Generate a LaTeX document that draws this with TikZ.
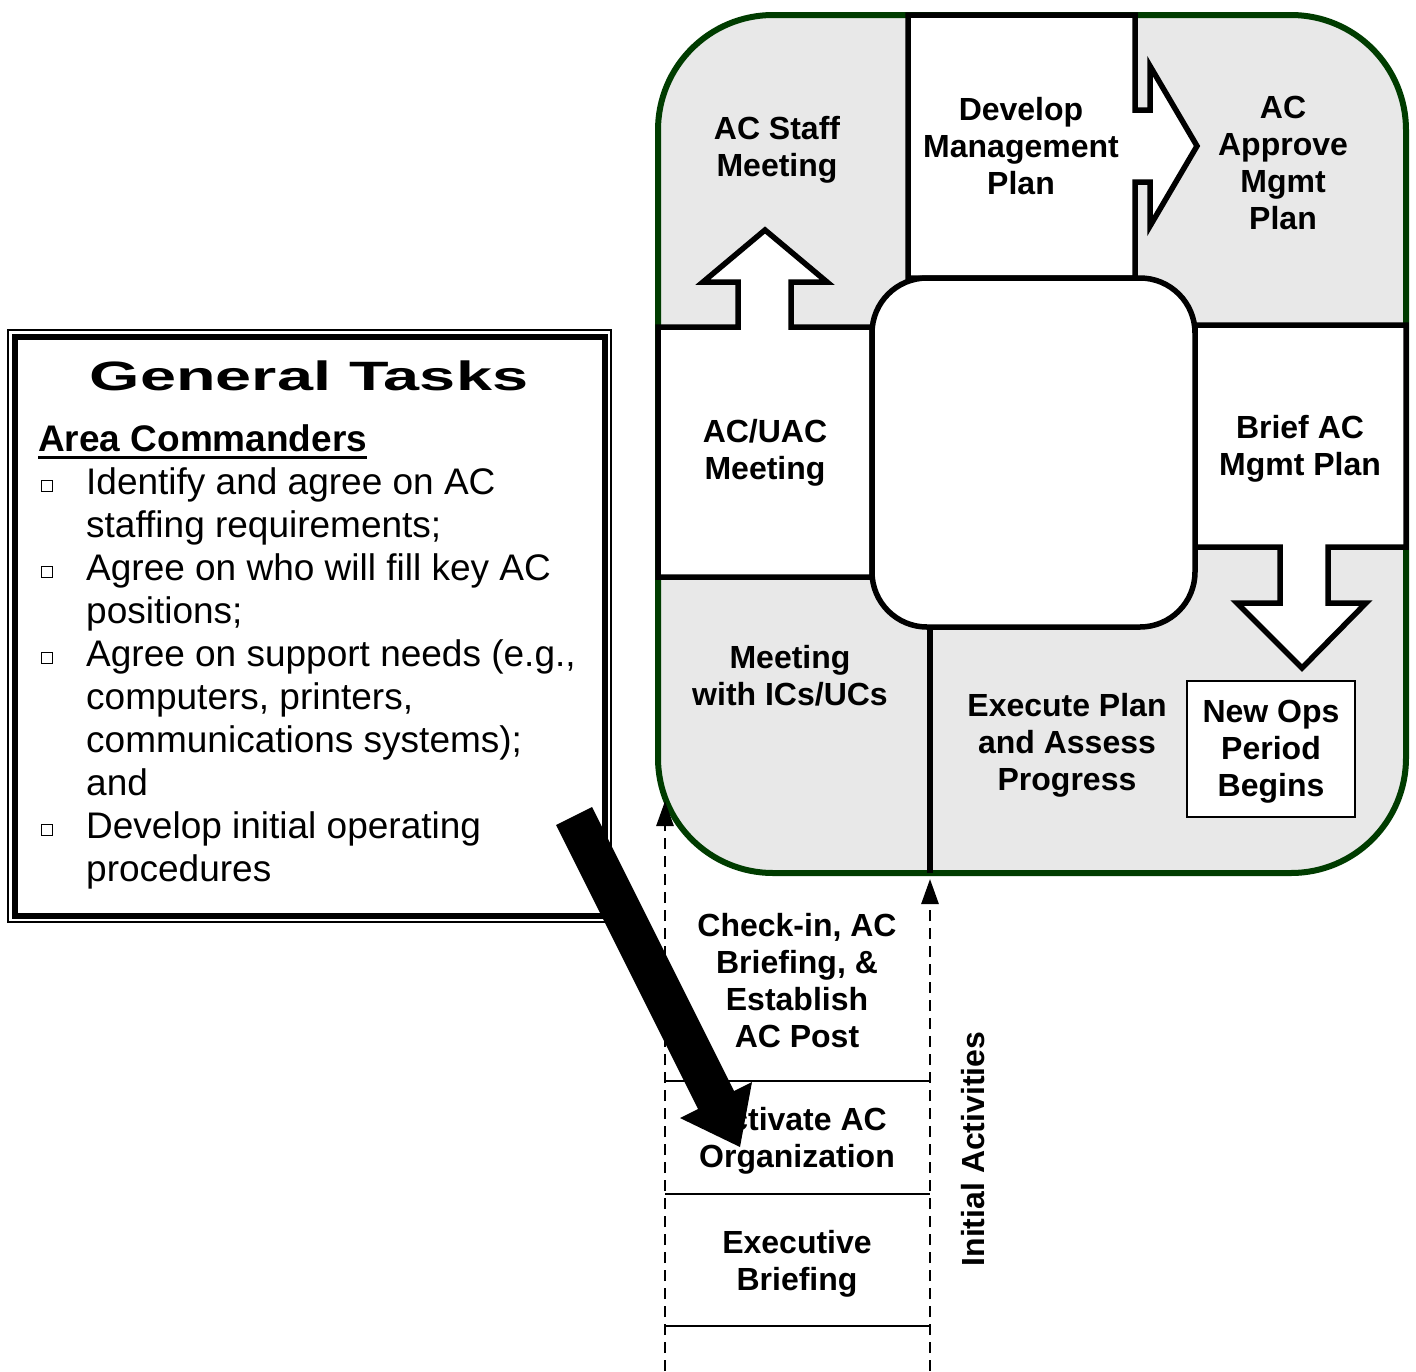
\documentclass[tikz,border=0pt]{standalone}
\usepackage{fontspec}
\usepackage{graphicx}
\setmainfont{Liberation Sans}
\usetikzlibrary{arrows.meta,calc}
\definecolor{bordergreen}{RGB}{0,60,0}
\definecolor{cellgray}{RGB}{232,232,232}
\begin{document}
\begin{tikzpicture}[x=1pt,y=-1pt,
  lbl/.style={font=\fontsize{32}{37}\selectfont\bfseries, align=center, inner sep=0pt},
  body/.style={font=\fontsize{37}{43}\selectfont, inner sep=0pt, anchor=base west},
  blk/.style={draw=black, line width=5.5pt, line join=miter},
  dasharrow/.style={dash pattern=on 11pt off 7pt, line width=2.8pt, -{Triangle[length=25pt,width=17pt]}},
  sepline/.style={line width=2.5pt},
  bulletbox/.style={draw, line width=1.3pt, minimum size=11pt, inner sep=0pt, fill=white}]
\useasboundingbox (0,0) rectangle (1416,1371);
\fill[white] (0,0) rectangle (1416,1371);

% main cycle frame
\draw[draw=bordergreen, line width=6pt, fill=cellgray, rounded corners=115pt] (658,15) rectangle (1406,873);

% Develop box with right arrow
\draw[blk, fill=white] (908,278) -- (908,15) -- (1135,15) -- (1135,110) -- (1150,110) -- (1150,66) -- (1197,146) -- (1150,226) -- (1150,182) -- (1135,182) -- (1135,278) -- cycle;
% AC/UAC box with up arrow
\draw[blk, fill=white] (658,577) -- (658,327) -- (738,327) -- (738,282) -- (703,282) -- (765,230) -- (827,282) -- (791,282) -- (791,327) -- (872,327) -- (872,577) -- cycle;
% Brief box with down arrow
\draw[blk, fill=white] (1195,325) -- (1406,325) -- (1406,547) -- (1328,547) -- (1328,603) -- (1366,603) -- (1302,668) -- (1237,603) -- (1280,603) -- (1280,547) -- (1195,547) -- cycle;
% centre box
\draw[blk, fill=white, rounded corners=55pt] (872,278) rectangle (1195,627);
% divider
\draw[blk] (930,627) -- (930,873);

% labels
\node[lbl] (acstaff) at (777,150) {AC Staff\\Meeting};
\node[lbl] (develop) at (1021,146) {Develop\\Management\\Plan};
\node[lbl] (approve) at (1283,163) {AC\\Approve\\Mgmt\\Plan};
\node[lbl] (acuac) at (765,453) {AC/UAC\\Meeting};
\node[lbl] (brief) at (1300,449) {Brief AC\\Mgmt Plan};
\node[lbl] (meetic) at (790,676) {Meeting\\with ICs/UCs};
\node[lbl] (execute) at (1067,745) {Execute Plan\\and Assess\\Progress};
\node[draw, line width=2.5pt, fill=white, minimum width=168pt, minimum height=136pt] (newops) at (1271,749) {};
\node[lbl] (newopstext) at (1271,752) {New Ops\\Period\\Begins};

% initial activities
\coordinate (d1s) at (665,1371);
\coordinate (d1e) at (665,801);
\coordinate (d2s) at (930,1371);
\coordinate (d2e) at (930,879);
\draw[dasharrow] (d1s) -- (d1e);
\draw[dasharrow] (d2s) -- (d2e);
\draw[sepline] (665,1081) -- (930,1081);
\draw[sepline] (665,1194) -- (930,1194);
\draw[sepline] (665,1326) -- (930,1326);
\node[lbl] (checkin) at (797,981) {Check-in, AC\\Briefing, \&\\Establish\\AC Post};
\node[lbl] (activate) at (797,1141) {Activate AC\\Organization};
\node[lbl] (execbrief) at (797,1264) {Executive\\Briefing};
\node[lbl, rotate=90] (initial) at (973,1149) {Initial Activities};

% General tasks box
\draw[line width=2pt, fill=white] (8,330) rectangle (611,922);
\draw[line width=5.5pt] (15,337) rectangle (605,916);
\node[font=\fontsize{41}{46}\selectfont\bfseries, inner sep=0pt, anchor=base] (gt) at (309,390) {\scalebox{1.58}[1]{General Tasks}};
\node[body, font=\fontsize{37}{43}\selectfont\bfseries] (areac) at (38,451) {Area Commanders};
\draw[line width=3pt] ($(areac.base west)+(0,6)$) -- ($(areac.base east)+(0,6)$);
\node[body] (l1) at (86,494) {Identify and agree on AC};
\node[body] (l2) at (86,537) {staffing requirements;};
\node[body] (l3) at (86,580) {Agree on who will fill key AC};
\node[body] (l4) at (86,623) {positions;};
\node[body] (l5) at (86,666) {Agree on support needs (e.g.,};
\node[body] (l6) at (86,709) {computers, printers,};
\node[body] (l7) at (86,752) {communications systems);};
\node[body] (l8) at (86,795) {and};
\node[body] (l9) at (86,838) {Develop initial operating};
\node[body] (l10) at (86,881) {procedures};
\node[bulletbox] (b1) at (47,486) {};
\node[bulletbox] (b2) at (47,572) {};
\node[bulletbox] (b3) at (47,658) {};
\node[bulletbox] (b4) at (47,830) {};

% big black arrow
\fill[black] (556,825) -- (592,807) -- (734,1091) -- (752,1082) -- (740,1147) -- (680,1118) -- (698,1109) -- cycle;
\end{tikzpicture}
\end{document}
